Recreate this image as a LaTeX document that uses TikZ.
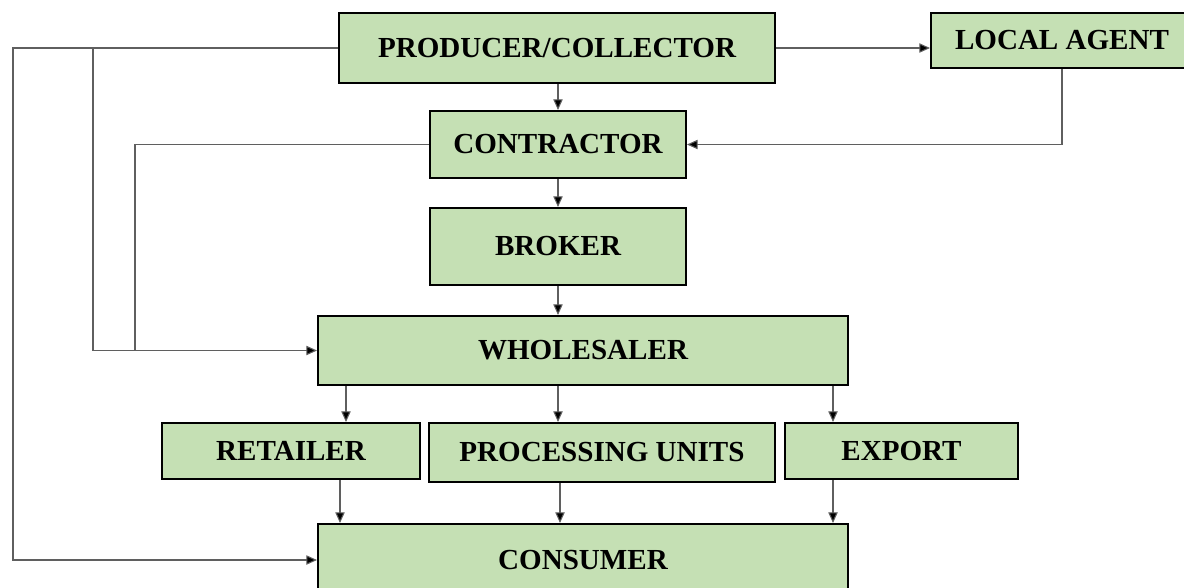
\documentclass[tikz,border=0pt]{standalone}
\usepackage{fontspec}
\setmainfont{Liberation Serif}
\usetikzlibrary{arrows.meta}
\definecolor{boxgreen}{RGB}{197,224,180}
\definecolor{linegray}{RGB}{95,95,95}
\begin{document}
\begin{tikzpicture}[x=0.75pt,y=0.75pt,yscale=-1,xscale=1,
  box/.style={draw=black, line width=1.5pt, fill=boxgreen, inner sep=0pt,
    font=\fontsize{21.8}{25}\selectfont\bfseries},
  line/.style={draw=linegray, line width=0.8pt},
  arr/.style={line, -{Triangle[length=8pt,width=7pt,fill=black]}}]
%set diagram size 1184 x 587
\useasboundingbox (0,0) rectangle (1184,587);

%Shape: Rectangle [producer]
\node[box, minimum width=327pt, minimum height=52.5pt] (prod) at (557,48) {PRODUCER/COLLECTOR};
%Shape: Rectangle [local agent]
\node[box, minimum width=196.5pt, minimum height=41.25pt] (agent) at (1062,40.5) {LOCAL AGENT};
%Shape: Rectangle [contractor]
\node[box, minimum width=192pt, minimum height=50.25pt] (contr) at (558,144.5) {CONTRACTOR};
%Shape: Rectangle [broker]
\node[box, minimum width=192pt, minimum height=57.75pt] (broker) at (558,246.5) {BROKER};
%Shape: Rectangle [wholesaler]
\node[box, minimum width=397.5pt, minimum height=51.75pt] (whole) at (583,350.5) {WHOLESALER};
%Shape: Rectangle [retailer]
\node[box, minimum width=193.5pt, minimum height=42pt] (retail) at (291,451) {RETAILER};
%Shape: Rectangle [processing units]
\node[box, minimum width=259.5pt, minimum height=44.25pt] (proc) at (602,452.5) {PROCESSING UNITS};
%Shape: Rectangle [export]
\node[box, minimum width=174.75pt, minimum height=42pt] (export) at (901.5,451) {EXPORT};
%Shape: Rectangle [consumer]
\node[box, minimum width=397.5pt, minimum height=54pt] (cons) at (583,560) {CONSUMER};

%Coordinates for the bends and drops
\coordinate (outer) at (13,0);
\coordinate (inner) at (93,0);
\coordinate (ctbend) at (135,0);
\coordinate (colA) at (346,0);
\coordinate (colAb) at (340,0);
\coordinate (colB) at (558,0);
\coordinate (colBb) at (560,0);
\coordinate (colC) at (833,0);

%Straight Lines [left loops]
\draw[arr] (prod.west) -- (prod.west -| outer) |- (cons.west);
\draw[arr] (prod.west -| inner) |- (whole.west);
\draw[line] (contr.west) -| (ctbend |- whole.west);
%Straight Lines [local agent]
\draw[arr] (prod.east) -- (prod.east -| agent.west);
\draw[arr] (agent.south) |- (contr.east);
%Straight Lines [main column]
\draw[arr] (prod.south -| colB) -- (contr.north -| colB);
\draw[arr] (contr.south -| colB) -- (broker.north -| colB);
\draw[arr] (broker.south -| colB) -- (whole.north -| colB);
%Straight Lines [to outlets]
\draw[arr] (whole.south -| colA) -- (retail.north -| colA);
\draw[arr] (whole.south -| colB) -- (proc.north -| colB);
\draw[arr] (whole.south -| colC) -- (export.north -| colC);
%Straight Lines [to consumer]
\draw[arr] (retail.south -| colAb) -- (cons.north -| colAb);
\draw[arr] (proc.south -| colBb) -- (cons.north -| colBb);
\draw[arr] (export.south -| colC) -- (cons.north -| colC);
\end{tikzpicture}
\end{document}
